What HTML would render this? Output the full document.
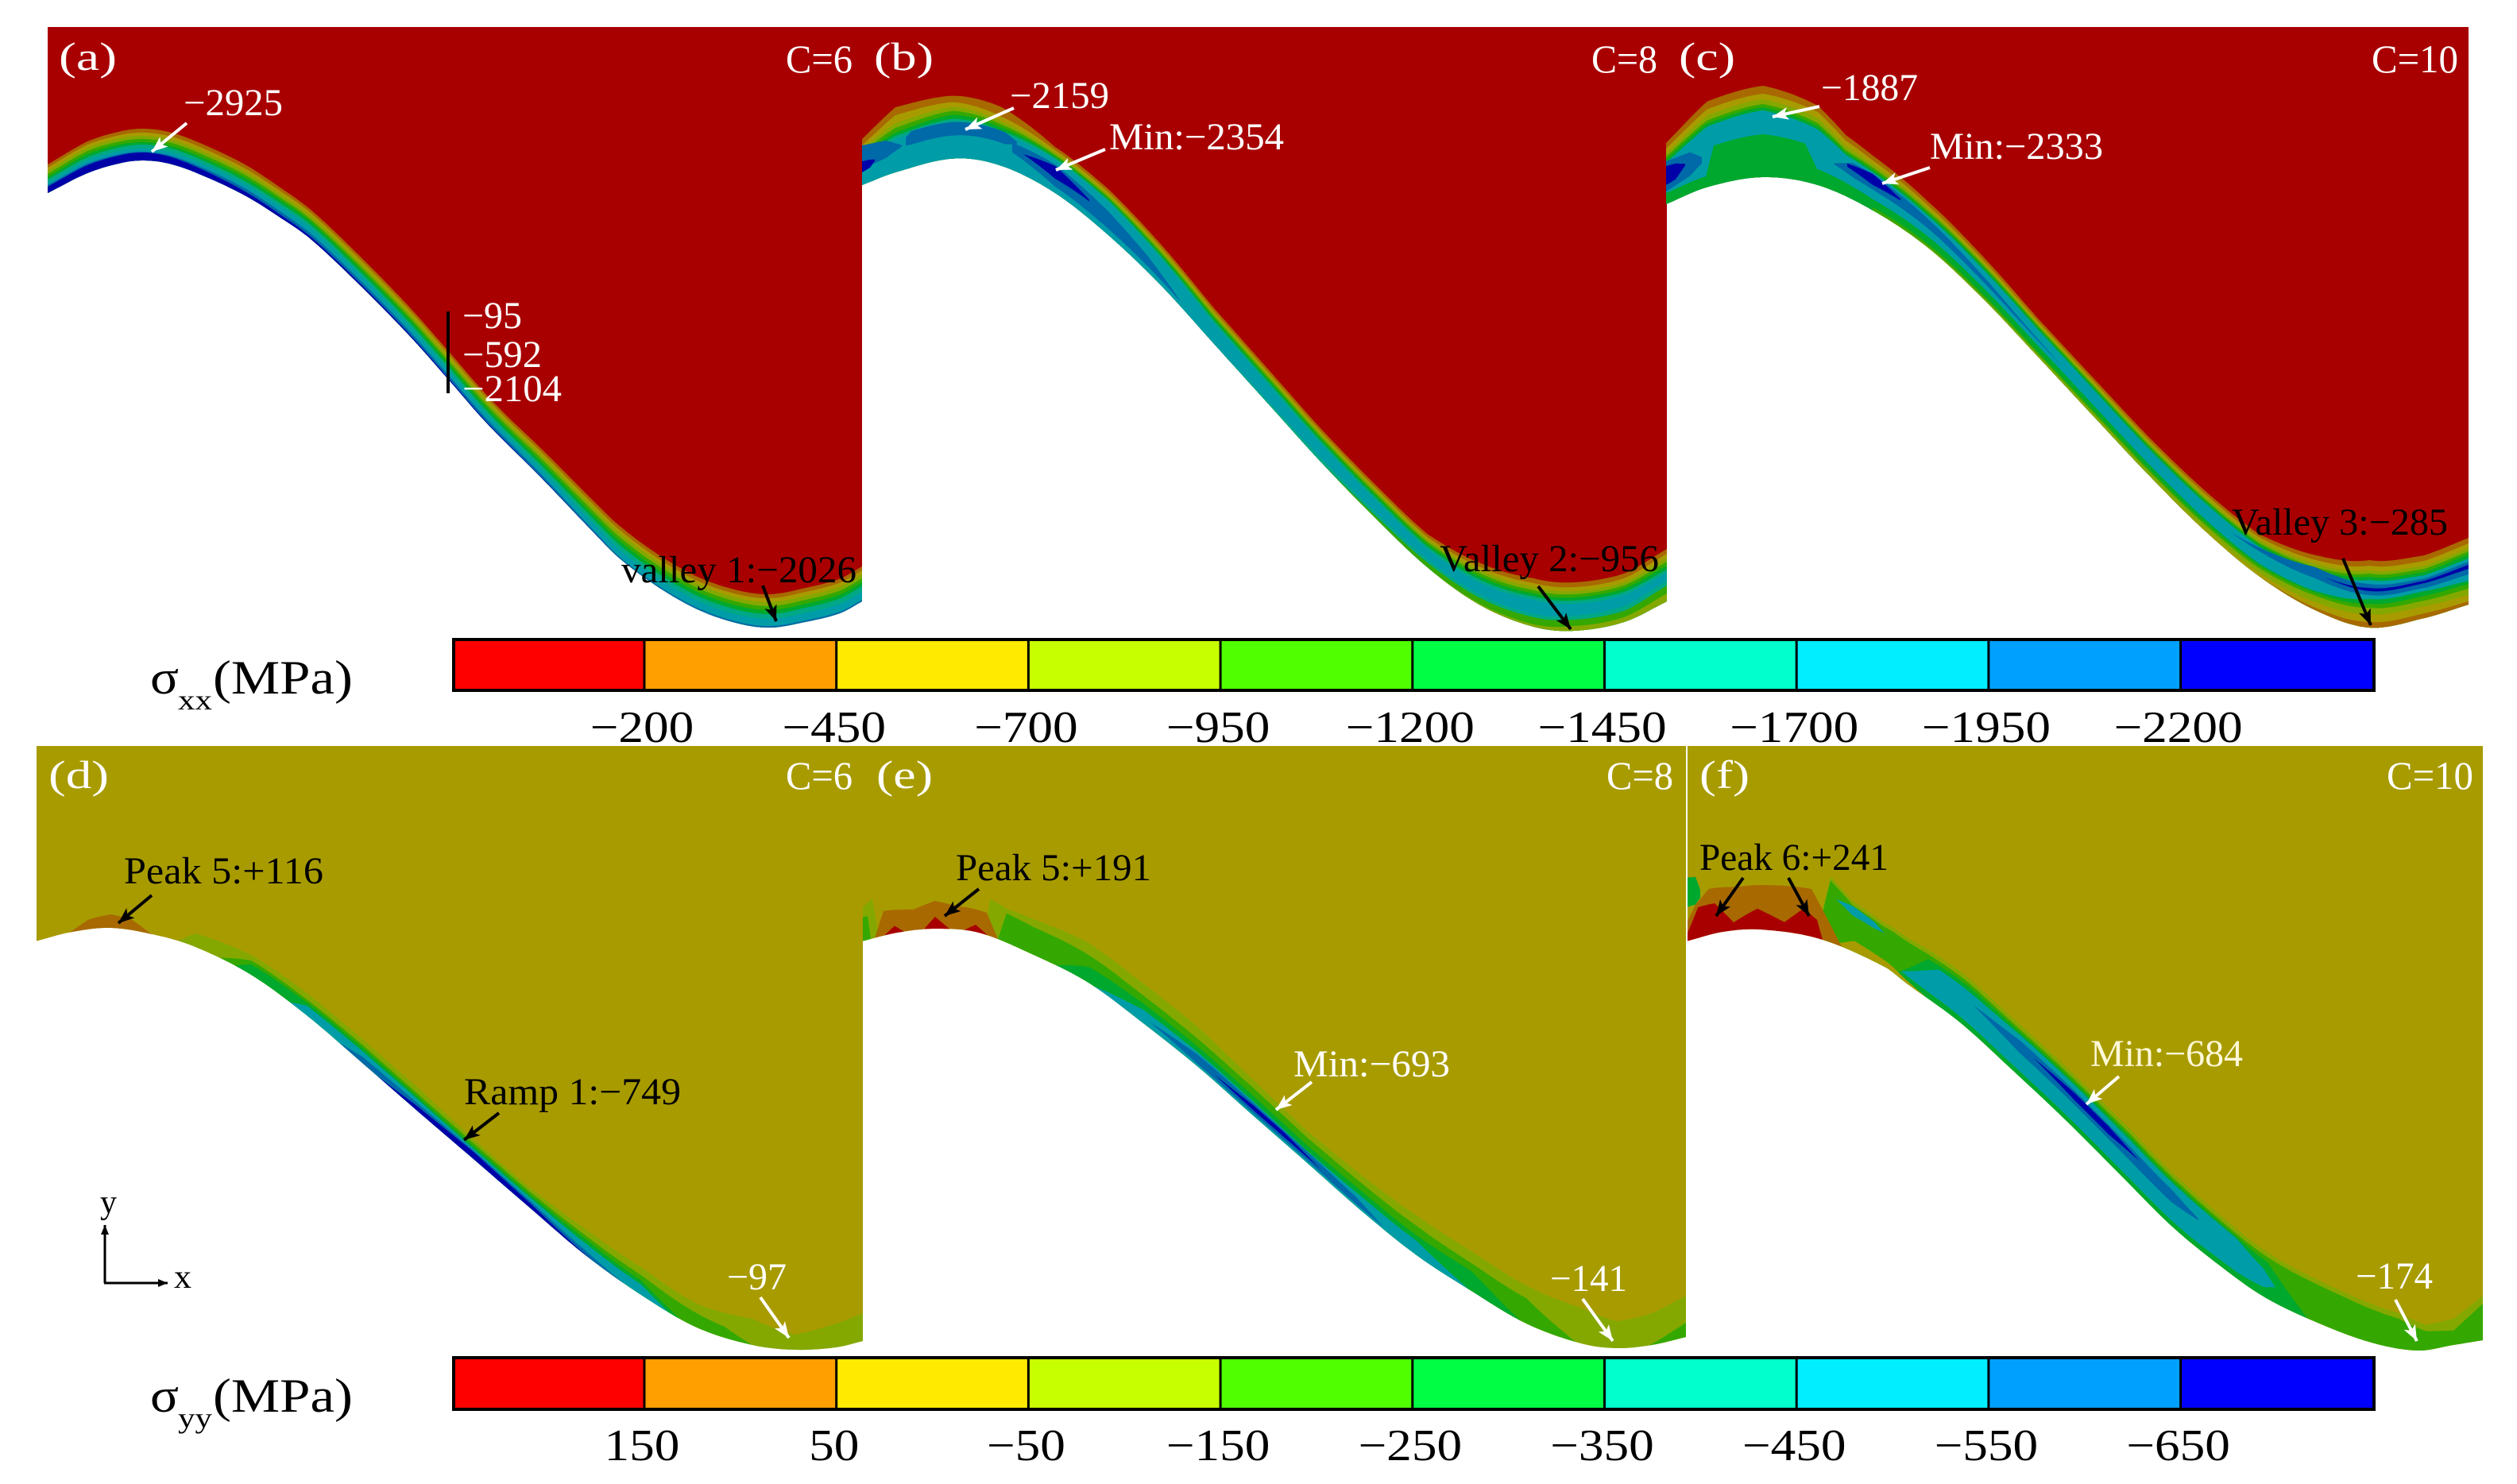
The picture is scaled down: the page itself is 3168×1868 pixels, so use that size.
<!DOCTYPE html>
<html lang="en">
<head>
<meta charset="utf-8">
<title>Stress contours for C=6, 8, 10</title>
<style>
html,body{margin:0;padding:0;background:#fff;width:3168px;height:1868px;overflow:hidden}
svg{display:block}
text{font-family:"Liberation Serif","DejaVu Serif",serif}
.w{fill:#fff}
.k{fill:#000}
.wl{stroke:#fff;stroke-width:4;marker-end:url(#head-white)}
.kl{stroke:#000;stroke-width:4;marker-end:url(#head-black)}
</style>
</head>
<body>
<svg id="figure" xmlns="http://www.w3.org/2000/svg" width="3168" height="1868" viewBox="0 0 3168 1868">
<defs>
<marker id="head-white" markerUnits="userSpaceOnUse" markerWidth="22" markerHeight="18" refX="20" refY="8" orient="auto"><path d="M0 0L20 8L0 16L5 8Z" fill="#fff"/></marker>
<marker id="head-black" markerUnits="userSpaceOnUse" markerWidth="22" markerHeight="18" refX="20" refY="8" orient="auto"><path d="M0 0L20 8L0 16L5 8Z" fill="#000"/></marker>
<marker id="head-small" markerUnits="userSpaceOnUse" markerWidth="14" markerHeight="12" refX="12" refY="5" orient="auto"><path d="M0 0L12 5L0 10Z" fill="#000"/></marker>
</defs>
<rect width="3168" height="1868" fill="#fff"/>
<g id="panels"></g>
<g id="bars"></g>

<g>
<text class="w" x="74" y="88" font-size="50" textLength="73" lengthAdjust="spacingAndGlyphs">(a)</text>
<text class="w" x="989" y="91" font-size="50" textLength="84" lengthAdjust="spacingAndGlyphs">C=6</text>
<text class="w" x="231" y="145" font-size="48" textLength="125" lengthAdjust="spacingAndGlyphs">−2925</text>
<text class="w" x="582" y="413" font-size="48" textLength="75" lengthAdjust="spacingAndGlyphs">−95</text>
<text class="w" x="582" y="462" font-size="48" textLength="100" lengthAdjust="spacingAndGlyphs">−592</text>
<text class="w" x="582" y="505" font-size="48" textLength="125" lengthAdjust="spacingAndGlyphs">−2104</text>
<text class="k" x="782" y="733" font-size="48" textLength="296" lengthAdjust="spacingAndGlyphs">valley 1:−2026</text>
<rect x="562" y="392" width="4" height="103" fill="#000"/>
<line class="wl" x1="235" y1="155" x2="191" y2="191"/>
<line class="kl" x1="960" y1="737" x2="977" y2="782"/>
</g>

<g>
<text class="w" x="1100" y="88" font-size="50" textLength="75" lengthAdjust="spacingAndGlyphs">(b)</text>
<text class="w" x="2003" y="91" font-size="50" textLength="83" lengthAdjust="spacingAndGlyphs">C=8</text>
<text class="w" x="1271" y="136" font-size="48" textLength="125" lengthAdjust="spacingAndGlyphs">−2159</text>
<text class="w" x="1396" y="188" font-size="48" textLength="220" lengthAdjust="spacingAndGlyphs">Min:−2354</text>
<text class="k" x="1812" y="719" font-size="48" textLength="276" lengthAdjust="spacingAndGlyphs">Valley 2:−956</text>
<line class="wl" x1="1276" y1="136" x2="1215" y2="163"/>
<line class="wl" x1="1391" y1="188" x2="1329" y2="214"/>
<line class="kl" x1="1936" y1="738" x2="1977" y2="792"/>
</g>

<g>
<text class="w" x="2113" y="88" font-size="50" textLength="71" lengthAdjust="spacingAndGlyphs">(c)</text>
<text class="w" x="2985" y="91" font-size="50" textLength="109" lengthAdjust="spacingAndGlyphs">C=10</text>
<text class="w" x="2292" y="126" font-size="48" textLength="122" lengthAdjust="spacingAndGlyphs">−1887</text>
<text class="w" x="2429" y="200" font-size="48" textLength="218" lengthAdjust="spacingAndGlyphs">Min:−2333</text>
<text class="k" x="2809" y="673" font-size="48" textLength="272" lengthAdjust="spacingAndGlyphs">Valley 3:−285</text>
<line class="wl" x1="2290" y1="134" x2="2231" y2="147"/>
<line class="wl" x1="2429" y1="211" x2="2369" y2="231"/>
<line class="kl" x1="2949" y1="703" x2="2984" y2="787"/>
</g>

<g>
<text class="w" x="61" y="992" font-size="50" textLength="76" lengthAdjust="spacingAndGlyphs">(d)</text>
<text class="w" x="989" y="993" font-size="50" textLength="84" lengthAdjust="spacingAndGlyphs">C=6</text>
<text class="k" x="156" y="1112" font-size="48" textLength="251" lengthAdjust="spacingAndGlyphs">Peak 5:+116</text>
<text class="k" x="584" y="1390" font-size="48" textLength="273" lengthAdjust="spacingAndGlyphs">Ramp 1:−749</text>
<text class="w" x="915" y="1623" font-size="48" textLength="75" lengthAdjust="spacingAndGlyphs">−97</text>
<line class="kl" x1="191" y1="1127" x2="149" y2="1162"/>
<line class="kl" x1="628" y1="1401" x2="584" y2="1435"/>
<line class="wl" x1="957" y1="1633" x2="993" y2="1684"/>
</g>

<g>
<line x1="132" y1="1615" x2="132" y2="1542" stroke="#000" stroke-width="3" marker-end="url(#head-small)"/>
<line x1="131" y1="1615" x2="211" y2="1615" stroke="#000" stroke-width="3" marker-end="url(#head-small)"/>
<text class="k" x="126" y="1527" font-size="42" textLength="21" lengthAdjust="spacingAndGlyphs">y</text>
<text class="k" x="219" y="1621" font-size="42" textLength="22" lengthAdjust="spacingAndGlyphs">x</text>
</g>

<g>
<text class="w" x="1103" y="992" font-size="50" textLength="71" lengthAdjust="spacingAndGlyphs">(e)</text>
<text class="w" x="2022" y="993" font-size="50" textLength="84" lengthAdjust="spacingAndGlyphs">C=8</text>
<text class="k" x="1203" y="1108" font-size="48" textLength="246" lengthAdjust="spacingAndGlyphs">Peak 5:+191</text>
<text class="w" x="1628" y="1355" font-size="48" textLength="197" lengthAdjust="spacingAndGlyphs">Min:−693</text>
<text class="w" x="1951" y="1625" font-size="48" textLength="97" lengthAdjust="spacingAndGlyphs">−141</text>
<line class="kl" x1="1232" y1="1119" x2="1189" y2="1153"/>
<line class="wl" x1="1651" y1="1362" x2="1606" y2="1397"/>
<line class="wl" x1="1992" y1="1635" x2="2030" y2="1688"/>
</g>

<g>
<text class="w" x="2139" y="992" font-size="50" textLength="63" lengthAdjust="spacingAndGlyphs">(f)</text>
<text class="w" x="3004" y="993" font-size="50" textLength="109" lengthAdjust="spacingAndGlyphs">C=10</text>
<text class="k" x="2139" y="1095" font-size="48" textLength="238" lengthAdjust="spacingAndGlyphs">Peak 6:+241</text>
<text fill="#fff8d8" x="2631" y="1342" font-size="48" textLength="192" lengthAdjust="spacingAndGlyphs">Min:−684</text>
<text class="w" x="2965" y="1622" font-size="48" textLength="97" lengthAdjust="spacingAndGlyphs">−174</text>
<line class="kl" x1="2194" y1="1105" x2="2160" y2="1153"/>
<line class="kl" x1="2251" y1="1105" x2="2277" y2="1153"/>
<line class="wl" x1="2667" y1="1355" x2="2626" y2="1390"/>
<line class="wl" x1="3015" y1="1636" x2="3042" y2="1688"/>
</g>

<g>
<text class="k" x="189" y="873" font-size="60" textLength="36" lengthAdjust="spacingAndGlyphs">σ</text>
<text class="k" x="224" y="893" font-size="36" textLength="43" lengthAdjust="spacingAndGlyphs">xx</text>
<text class="k" x="268" y="873" font-size="60" textLength="176" lengthAdjust="spacingAndGlyphs">(MPa)</text>
</g>
<g>
<text class="k" x="189" y="1777" font-size="60" textLength="36" lengthAdjust="spacingAndGlyphs">σ</text>
<text class="k" x="224" y="1797" font-size="36" textLength="43" lengthAdjust="spacingAndGlyphs">yy</text>
<text class="k" x="268" y="1777" font-size="60" textLength="176" lengthAdjust="spacingAndGlyphs">(MPa)</text>
</g>
</svg>

<script>
// ---- Data: colour levels and tick labels ----
const levelShades = ['#a80000','#a86900','#a89b00','#84a800','#34a800','#00a82d','#00a886','#009da8','#0069a8','#0000a8'];
const levelColours = ['#ff0000','#ff9f00','#ffea00','#c8ff00','#50ff00','#00ff44','#00ffcc','#00eeff','#00a0ff','#0000ff'];
const xxTicks = ['−200','−450','−700','−950','−1200','−1450','−1700','−1950','−2200'];
const yyTicks = ['150','50','−50','−150','−250','−350','−450','−550','−650'];

// ---- Data: wall profile of each panel (mm along, mm below panel top) ----
const wallXa = [0,.5,.93,1.23,1.57,2.0,2.5,2.93,3.30,3.87,4.53,5.03,5.53,6.20,6.87,7.20,7.70,8.20,8.70,9.10,9.53,9.97,10.25];
const wallYa = [2.09,1.84,1.71,1.68,1.73,1.89,2.13,2.40,2.66,3.19,3.86,4.42,4.99,5.66,6.36,6.69,7.06,7.34,7.51,7.56,7.49,7.38,7.23];
const wallXb = [0,.42,1.16,1.76,2.43,3.10,3.77,4.44,5.11,5.78,6.45,7.12,7.785,8.455,8.96,9.59,10.13];
const wallYb = [1.99,1.83,1.655,1.75,2.09,2.62,3.26,4.00,4.74,5.48,6.17,6.805,7.28,7.55,7.60,7.49,7.23];
const wallXc = [0,.52,1.22,1.91,2.605,3.30,3.99,4.69,5.38,6.075,6.77,7.46,8.16,8.85,9.545,10.10];
const wallYc = [2.23,2.015,1.89,1.99,2.31,2.78,3.42,4.16,4.90,5.64,6.33,6.91,7.335,7.56,7.44,7.27];
const wallXd = [0,.45,.94,1.50,2.00,2.70,3.40,4.10,4.80,5.50,6.20,6.91,7.61,8.31,9.01,9.54,10.06,10.40];
const wallYd = [2.455,2.34,2.29,2.38,2.53,2.88,3.39,3.99,4.60,5.20,5.805,6.41,6.91,7.32,7.54,7.60,7.57,7.49];
const wallXe = [0,.43,.91,1.46,2.15,2.84,3.53,4.22,4.91,5.595,6.28,6.97,7.66,8.35,9.04,9.49,9.93,10.36];
const wallYe = [2.455,2.35,2.30,2.35,2.63,2.98,3.49,4.04,4.65,5.25,5.855,6.41,6.86,7.27,7.52,7.58,7.54,7.44];
const wallXf = [0,.44,.92,1.67,2.48,2.76,3.43,4.09,4.76,5.43,6.09,6.66,7.25,7.93,8.61,9.19,9.64,10.01];
const wallYf = [2.455,2.34,2.31,2.43,2.78,2.99,3.48,4.08,4.71,5.38,6.04,6.51,6.93,7.26,7.51,7.61,7.54,7.48];

// ---- Data: stations along the wall used by the contour bands ----
const stA = [0,.5,1.27,2.5,3.2,5.87,7.2,8.2,9.1,10.25];
const stB = [0,.42,1.15,1.76,2.43,3.10,4.44,5.78,7.12,7.78,8.45,8.96,9.59,10.13];
const stC = [0,.52,1.22,1.91,2.26,2.60,3.30,4.69,6.07,7.46,8.16,8.85,9.54,10.10];
const stD = [1.78,2.00,2.70,3.40,4.10,4.80,5.50,6.20,6.91,7.61,8.31,9.01,9.54,10.06,10.40];
const stE = [1.55,1.60,1.81,2.15,2.84,3.53,4.22,4.91,5.59,6.28,6.97,7.66,8.35,9.04,9.49,9.93,10.36];
const stF = [1.62,1.80,2.08,2.48,3.03,3.51,4.19,4.87,5.55,6.23,6.91,7.59,8.27,8.95,9.30,9.64,10.01];

// ---- Data: contour regions [level, stations, lower depth, upper depth], depth in 0.01 mm off the wall ----
const regionsA = [
 [1,stA,null,[36,40,40,39,37,35,41,41,42,44]],
 [2,stA,null,[32,36,35,34,33,31,36,36,37,39]],
 [3,stA,null,[28,32,31,30,29,27,32,32,32,34]],
 [4,stA,null,[24,28,27,26,25,23,27,27,27,29]],
 [5,stA,null,[20,24,23,22,22,19,22,22,22,24]],
 [6,stA,null,[17,20,20,18,18,15,17,17,17,19]],
 [7,stA,null,[13,16,15,14,14,11,11,11,11,12]],
 [8,stA,null,[10,12,11,9,7,5,2,2,2,2]],
 [9,stA,null,[8,10,10,5,3,1,0,0,0,0]]
];
const regionsB = [
 [1,stB,null,[58,82,79,74,58,58,45,42,42,53,61,61,61,66]],
 [2,stB,null,[50,72,71,62,54,54,41,38,38,48,55,55,55,60]],
 [3,stB,null,[46,62,65,56,51,51,38,35,35,44,50,50,50,55]],
 [4,stB,null,[42,56,60,52,48,48,35,32,32,40,46,46,46,50]],
 [5,stB,null,[38,50,55,48,46,46,32,29,29,36,42,42,42,45]],
 [6,stB,null,[34,46,50,44,44,44,29,26,26,32,38,38,38,40]],
 [7,stB,null,[30,42,46,40,42,42,26,23,23,28,34,34,34,36]],
 [8,[0,.3,.5],[20,22,30],[50,44,32]],
 [8,[.55,.62,1.15,1.8,1.95],[30,29,29,29,34],[40,46,46,44,38]],
 [9,[0,.1,.16],[16,18,24],[30,28,26]],
 [8,[1.89,2.43,3.10,3.6,4.0],[22,8,8,7,6],[34,36,30,20,7]],
 [9,[2.03,2.43,2.86],[26,18,22],[26,34,24]],
 [6,[4.44,7.12,8.45,8.96,9.59,10.13],null,[0,10,16,19,20,26]],
 [4,[5.78,7.12,7.78,8.45,8.96,9.59,10.13],null,[0,6,9,12,14,14,20]],
 [3,[7.12,8.45,8.96,9.59,10.13],null,[0,3,6,6,10]]
];
const regionsC = [
 [1,stC,null,[77,108,115,100,77,69,58,48,48,53,69,85,79,84]],
 [2,stC,null,[70,98,105,92,70,63,53,44,44,49,63,78,72,77]],
 [3,stC,null,[64,90,98,84,63,58,49,41,41,45,58,72,66,71]],
 [4,stC,null,[60,84,92,78,58,54,46,39,38,42,54,68,62,67]],
 [5,stC,null,[56,80,88,74,55,51,43,37,36,40,51,64,58,63]],
 [7,stC,null,[52,76,84,70,52,48,40,34,33,37,47,60,54,58]],
 [5,[0,.50,.60,1.22,1.75,1.90,2.60,4.69,6.07,7.46,8.16,8.85,9.54,10.10],null,[14,14,50,54,48,20,14,14,14,16,24,36,34,30]],
 [4,[2.6,4.69,6.07,7.46,8.16,8.85,9.54,10.10],null,[4,6,8,14,22,30,28,26]],
 [3,[2.6,4.69,6.07,7.46,8.16,8.85,9.54,10.10],null,[0,3,5,10,18,25,22,20]],
 [2,[6.07,7.46,8.16,8.85,9.54,10.10],null,[0,4,10,17,15,12]],
 [1,[7.46,8.16,8.85,9.54,10.10],null,[0,3,7,6,4]],
 [8,[2.1,2.35,2.6,3.3,4.4,5.0],[34,28,26,24,20,20],[34,46,46,36,24,20]],
 [9,[2.28,2.6,2.95],[38,32,34],[42,46,36]],
 [8,[0,.3,.45],[16,22,32],[54,52,40]],
 [9,[0,.12,.24],[24,26,38],[48,46,40]],
 [8,[7.1,8.16,8.85,9.54,10.10],[27,40,41,38,38],[27,54,55,50,54]],
 [9,[8.3,8.85,9.54,10.10],[47,46,44,45],[47,50,47,50]]
];
const regionsD = [
 [3,stD,null,[0,17,25,28,30,30,25,25,33,35,30,33,19,30,35]],
 [4,[2.3,2.70,3.40,4.10,4.80,5.50,6.20,6.91,7.61,8.31,8.66,9.0],null,[0,18,20,23,22,20,20,25,25,18,14,0]],
 [5,[2.5,2.7,3.4,4.1,4.8,5.5,6.2,6.91,7.61,8.1],null,[0,13,16,19,18,16,16,20,18,0]],
 [7,[3.19,3.4,4.1,4.8,5.5,6.2,6.91,7.61,7.96],null,[0,12,15,15,13,13,15,13,0]],
 [8,[3.8,4.1,4.8,5.5,6.2,6.91,7.4],null,[0,8,10,11,9,6,0]],
 [9,[4.3,4.8,5.5,6.2,6.6,7],null,[0,6,9,6,3,0]],
 [1,[.42,.65,.94,1.2,1.45],null,[0,12,17,13,0]]
];
const regionsE = [
 [3,stE,null,[0,47,43,45,50,50,50,45,40,45,50,50,48,45,34,40,52]],
 [4,[1.70,1.81,2.15,2.84,3.53,4.22,4.91,5.59,6.28,6.97,7.66,8.35,8.97],null,[0,37,35,35,35,35,35,32,35,37,35,32,0]],
 [4,[9.9,10.36],null,[0,18]],
 [5,[2.43,2.84,3.53,4.22,4.91,5.59,6.28,6.97,7.66,8.28],null,[0,20,25,25,25,22,25,25,25,0]],
 [7,[2.91,3.53,4.22,4.91,5.59,6.28,6.97,7.63],null,[0,17,18,18,15,18,18,0]],
 [8,[3.6,4.22,4.91,5.59,6.2,6.56],[8,3,3,3,3,3],[8,15,16,14,12,3]],
 [9,[4.42,4.91,5.3,5.77],[8,7,7,7],[8,13,13,7]],
 [3,[0,.12,.2],null,[43,50,0]],
 [4,[0,.06,.1],null,[30,30,0]],
 [1,[.15,.26,.64,.91,1.19,1.56,1.70],null,[0,31,26,35,29,28,0]],
 [0,[.27,.40,.52,.77,.91,1.09,1.28,1.42,1.57],null,[0,9,0,0,15,0,0,9,0]]
];
const regionsF = [
 [3,stF,null,[0,83,63,55,62,65,66,68,70,68,62,56,52,45,32,33,56]],
 [4,stF,null,[0,78,58,50,56,59,60,62,64,62,56,50,46,38,24,18,46]],
 [5,[2.6,3.03,3.51,4.19,4.87,5.55,6.23,6.91,7.3,7.8],null,[0,50,54,56,58,60,58,52,46,0]],
 [2,[1.85,2.1,2.5,3.0],null,[0,14,8,0]],
 [7,[1.87,2.08,2.35,2.48],[57,45,42,42],[57,57,50,42]],
 [7,[2.69,3.16,3.85,4.19,4.87,5.55,6.23,6.91,7.25,7.4],[10,8,7,7,7,7,7,8,12,20],[10,46,50,53,55,56,55,50,35,20]],
 [8,[3.6,4.19,4.87,5.55,6.1,6.43],[36,30,30,30,30,36],[36,46,48,48,46,38]],
 [9,[4.36,4.87,5.3,5.69],[40,36,36,42],[40,45,46,42]],
 [5,[0,.1,.16],[43,43,50],[80,78,60]],
 [1,[0,.10,.27,.64,.92,1.56,1.94],null,[25,43,58,54,56,60,0]],
 [0,[0,.135,.34,.58,.88,1.22,1.46,1.63,1.70],null,[10,39,38,10,26,12,33,23,0]]
];

// ---- Layout ----
const SVGNS = 'http://www.w3.org/2000/svg';
const PX_PER_MM = 100;
const PX_PER_DEPTH = 1;
const panelLayout = [
 {id:'a',left:60,right:1085,top:34,wallX:wallXa,wallY:wallYa,regions:regionsA,bg:0},
 {id:'b',left:1085,right:2098,top:34,wallX:wallXb,wallY:wallYb,regions:regionsB,bg:0},
 {id:'c',left:2097,right:3107,top:34,wallX:wallXc,wallY:wallYc,regions:regionsC,bg:0},
 {id:'d',left:46,right:1086,top:939,wallX:wallXd,wallY:wallYd,regions:regionsD,bg:2},
 {id:'e',left:1086,right:2122,top:939,wallX:wallXe,wallY:wallYe,regions:regionsE,bg:2},
 {id:'f',left:2124,right:3125,top:939,wallX:wallXf,wallY:wallYf,regions:regionsF,bg:2}
];

function xPx(p,x){ return p.left + x*PX_PER_MM; }
function yPx(p,y){ return p.top + y*PX_PER_MM; }

// Hermite spline through the wall table
function wallAt(p,x){
  const X=p.wallX, Y=p.wallY, n=X.length;
  if(x<=X[0]) return Y[0];
  if(x>=X[n-1]) return Y[n-1];
  let i=0;
  while(i<n-2 && x>X[i+1]) i++;
  const h=X[i+1]-X[i], t=(x-X[i])/h;
  const m0=i>0?(Y[i+1]-Y[i-1])/(X[i+1]-X[i-1]):(Y[1]-Y[0])/(X[1]-X[0]);
  const m1=i<n-2?(Y[i+2]-Y[i])/(X[i+2]-X[i]):(Y[n-1]-Y[n-2])/(X[n-1]-X[n-2]);
  const t2=t*t,t3=t2*t;
  return (2*t3-3*t2+1)*Y[i]+(t3-2*t2+t)*h*m0+(-2*t3+3*t2)*Y[i+1]+(t3-t2)*h*m1;
}
function depthAt(st,d,x){
  if(!d) return 0;
  const n=st.length;
  if(x<=st[0]) return d[0];
  if(x>=st[n-1]) return d[n-1];
  let i=0;
  while(i<n-2 && x>st[i+1]) i++;
  return d[i]+(d[i+1]-d[i])*(x-st[i])/(st[i+1]-st[i]);
}
function sampleXs(a,b){
  const out=[];
  for(let x=a;x<b;x+=0.04) out.push(x);
  out.push(b);
  return out;
}
function regionPath(p,st,lo,hi){
  const xs=[];
  for(let i=0;i<st.length-1;i++){
    const seg=sampleXs(st[i],st[i+1]);
    for(const v of seg) xs.push(v);
  }
  const up=xs.map(function(x){ return xPx(p,x).toFixed(1)+' '+(yPx(p,wallAt(p,x))-depthAt(st,hi,x)*PX_PER_DEPTH).toFixed(1); });
  const down=xs.slice().reverse().map(function(x){ return xPx(p,x).toFixed(1)+' '+(yPx(p,wallAt(p,x))-depthAt(st,lo,x)*PX_PER_DEPTH).toFixed(1); });
  return 'M'+up.join('L')+'L'+down.join('L')+'Z';
}

const panelsGroup=document.getElementById('panels');
panelLayout.forEach(function(p){
  const g=document.createElementNS(SVGNS,'g');
  
  
  const width=(p.right-p.left)/PX_PER_MM;
  const xs=sampleXs(0,width).reverse();
  const edge=xs.map(function(x){ return xPx(p,x).toFixed(1)+' '+yPx(p,wallAt(p,x)).toFixed(1); });
  const bg=document.createElementNS(SVGNS,'path');
  
  
  bg.setAttribute('d','M'+p.left+' '+p.top+'L'+p.right+' '+p.top+'L'+edge.join('L')+'Z');
  bg.setAttribute('fill',levelShades[p.bg]);
  g.appendChild(bg);
  p.regions.forEach(function(r){
    const el=document.createElementNS(SVGNS,'path');
    
    
    el.setAttribute('d',regionPath(p,r[1],r[2],r[3]));
    el.setAttribute('fill',levelShades[r[0]]);
    g.appendChild(el);
  });
  panelsGroup.appendChild(g);
});

// ---- Colour bars ----
const BAR_LEFT=571, BAR_RIGHT=2988, DIVIDER_ORIGIN=569.3, DIVIDER_STEP=241.7;
function levelX(k){ return Math.min(BAR_RIGHT,Math.max(BAR_LEFT,DIVIDER_ORIGIN+DIVIDER_STEP*k)); }
function tickWidth(label,size){
  let w=0;
  for(const ch of label) w+=(ch==='−'?0.564:0.5)*size;
  return w*1.13;
}
function drawBar(prefix,top,bottom,baseline,ticks){
  const barsGroup=document.getElementById('bars');
  const g=document.createElementNS(SVGNS,'g');
  
  
  levelColours.forEach(function(c,k){
    const cell=document.createElementNS(SVGNS,'rect');
    
    
    cell.setAttribute('x',levelX(k));
    cell.setAttribute('y',top);
    cell.setAttribute('width',levelX(k+1)-levelX(k));
    cell.setAttribute('height',bottom-top);
    cell.setAttribute('fill',c);
    g.appendChild(cell);
  });
  ticks.forEach(function(label,i){
    const k=i+1;
    const div=document.createElementNS(SVGNS,'line');
    
    
    div.setAttribute('x1',levelX(k));
    div.setAttribute('x2',levelX(k));
    div.setAttribute('y1',top);
    div.setAttribute('y2',bottom);
    div.setAttribute('stroke','#000');
    div.setAttribute('stroke-width','3');
    g.appendChild(div);
    const t=document.createElementNS(SVGNS,'text');
    
    
    const w=tickWidth(label,56);
    t.setAttribute('x',(levelX(k)-w/2-3).toFixed(1));
    t.setAttribute('y',baseline);
    t.setAttribute('font-size','56');
    t.setAttribute('fill','#000');
    t.setAttribute('textLength',w.toFixed(1));
    t.setAttribute('lengthAdjust','spacingAndGlyphs');
    t.textContent=label;
    g.appendChild(t);
  });
  const frame=document.createElementNS(SVGNS,'rect');
  
  
  frame.setAttribute('x',BAR_LEFT);
  frame.setAttribute('y',top);
  frame.setAttribute('width',BAR_RIGHT-BAR_LEFT);
  frame.setAttribute('height',bottom-top);
  frame.setAttribute('fill','none');
  frame.setAttribute('stroke','#000');
  frame.setAttribute('stroke-width','4');
  g.appendChild(frame);
  barsGroup.appendChild(g);
}
drawBar('sigma-xx',805,869,934,xxTicks);
drawBar('sigma-yy',1709,1774,1838,yyTicks);
</script>
</body>
</html>
